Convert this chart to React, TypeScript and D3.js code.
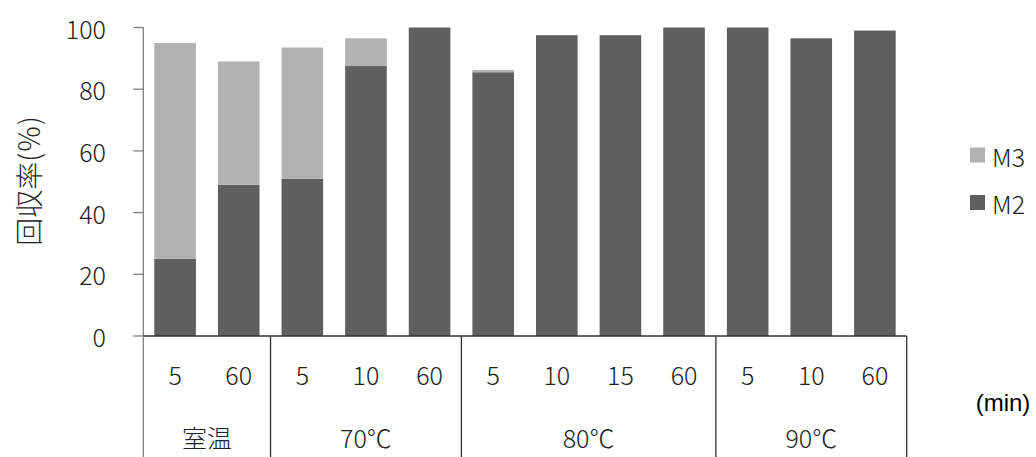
import React from "react";
import * as d3 from "d3";

const minutes = ["5", "60", "5", "10", "60", "5", "10", "15", "60", "5", "10", "60"];
const groupLabels = ["室温", "70℃", "80℃", "90℃"];
const groupSizes = [2, 3, 4, 3];
const m2Values = [25, 49, 51, 87.5, 100, 85.5, 97.5, 97.5, 100, 100, 96.5, 99];
const m3Values = [70, 40, 42.5, 9, 0, 0.7, 0, 0, 0, 0, 0, 0];
const yTicks = [0, 20, 40, 60, 80, 100];
const seriesNames = ["M3", "M2"];

const W = 1036;
const H = 457;
const X0 = 143.3;
const X1 = 906.7;
const Y0 = 336;
const Y1 = 27.5;
const LIGHT = "#b2b2b2";
const DARK = "#5f5f5f";
const FONT = "'Noto Sans CJK JP', 'Noto Sans', sans-serif";

export default function App() {
  const x = d3
    .scaleBand<number>()
    .domain(minutes.map((_, i) => i))
    .range([X0, X1])
    .paddingInner(0.346)
    .paddingOuter(0.173);
  const y = d3.scaleLinear().domain([0, 100]).range([Y0, Y1]);
  const step = x.step();
  const bw = x.bandwidth();

  const stacked = minutes.map((_, i) => ({ m2: m2Values[i], m3: m3Values[i] }));
  const stack = d3.stack<{ m2: number; m3: number }>().keys(["m2", "m3"]);
  const layers = stack(stacked);

  const boundaries: number[] = [0];
  groupSizes.forEach((s) => boundaries.push(boundaries[boundaries.length - 1] + s));

  return (
    <svg
      width={W}
      height={H}
      style={{ position: "absolute", left: 0, top: 0, background: "#fff" }}
      fontFamily={FONT}
      fontWeight={300}
    >
      {/* bars */}
      {layers.map((layer) => (
        <g key={layer.key} fill={layer.key === "m2" ? DARK : LIGHT}>
          {layer.map((d, i) =>
            d[1] - d[0] > 0 ? (
              <rect
                key={i}
                x={x(i)}
                y={y(d[1])}
                width={bw}
                height={y(d[0]) - y(d[1])}
              />
            ) : null
          )}
        </g>
      ))}

      {/* y axis */}
      <line x1={X0} x2={X0} y1={Y1} y2={Y0} stroke="#7f7f7f" strokeWidth={1.3} />
      {yTicks.map((t) => (
        <g key={t}>
          <line x1={X0 - 10} x2={X0} y1={y(t)} y2={y(t)} stroke="#7f7f7f" strokeWidth={1.3} />
          <text
            x={106}
            y={y(t)}
            textAnchor="end"
            dominantBaseline="central"
            fontSize={25}
            fill="#222"
          >
            {t}
          </text>
        </g>
      ))}

      {/* x axis */}
      <line x1={X0} x2={X1} y1={Y0} y2={Y0} stroke="#333" strokeWidth={1.3} />
      {boundaries.map((b, k) => (
        <line
          key={k}
          x1={X0 + step * b}
          x2={X0 + step * b}
          y1={Y0}
          y2={H}
          stroke={k === 0 ? "#7f7f7f" : "#333"}
          strokeWidth={1.3}
        />
      ))}
      {minutes.map((m, i) => (
        <text
          key={i}
          x={(x(i) as number) + bw / 2}
          y={374}
          textAnchor="middle"
          dominantBaseline="central"
          fontSize={25}
          fill="#222"
        >
          {m}
        </text>
      ))}
      {groupLabels.map((g, k) => (
        <text
          key={g}
          x={X0 + step * ((boundaries[k] + boundaries[k + 1]) / 2)}
          y={437}
          textAnchor="middle"
          dominantBaseline="central"
          fontSize={25}
          fill="#222"
        >
          {g}
        </text>
      ))}
      <text
        x={1003}
        y={402}
        textAnchor="middle"
        dominantBaseline="central"
        fontSize={24}
        fontWeight={400}
        fontFamily="'Liberation Sans', Arial, sans-serif"
        fill="#000"
      >
        (min)
      </text>

      {/* y title */}
      <text
        transform={`translate(28,181) rotate(-90)`}
        textAnchor="middle"
        dominantBaseline="central"
        fontSize={28}
        fill="#222"
      >
        回収率(％)
      </text>

      {/* legend */}
      {seriesNames.map((s, k) => (
        <g key={s} transform={`translate(970,${147.5 + k * 47.5})`}>
          <rect x={0} y={0} width={15} height={15} fill={s === "M3" ? LIGHT : DARK} />
          <text x={22} y={8} dominantBaseline="central" fontSize={25} fill="#222">
            {s}
          </text>
        </g>
      ))}
    </svg>
  );
}
